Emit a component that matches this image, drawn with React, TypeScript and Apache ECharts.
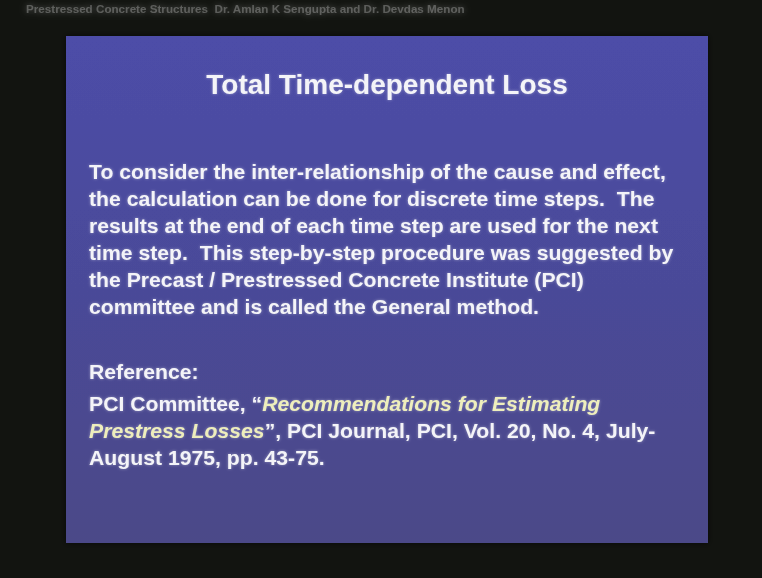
import React, { useEffect, useRef } from "react";
import * as echarts from "echarts";

const titleText = "Total Time-dependent Loss";
const bodyLines = [
  "To consider the inter-relationship of the cause and effect,",
  "the calculation can be done for discrete time steps.  The",
  "results at the end of each time step are used for the next",
  "time step.  This step-by-step procedure was suggested by",
  "the Precast / Prestressed Concrete Institute (PCI)",
  "committee and is called the General method.",
];
const refHeading = "Reference:";
const refLines: { plain: string; italic: string; after: string }[] = [
  { plain: "PCI Committee, \u201C", italic: "Recommendations for Estimating", after: "" },
  { plain: "", italic: "Prestress Losses", after: "\u201D, PCI Journal, PCI, Vol. 20, No. 4, July-" },
  { plain: "August 1975, pp. 43-75.", italic: "", after: "" },
];
const topStrip = "Prestressed Concrete Structures  Dr. Amlan K Sengupta and Dr. Devdas Menon";

export default function App() {
  const ref = useRef<HTMLDivElement>(null);
  useEffect(() => {
    if (!ref.current) return;
    const chart = echarts.init(ref.current, null, { renderer: "svg" });
    const font = "'Liberation Sans', Arial, sans-serif";
    const white = "#f4f4f8";
    const yellow = "#eeeebc";
    const glow = { textShadowColor: "rgba(255,255,255,0.4)", textShadowBlur: 3 };
    const bodyX = 89;
    const bodyY0 = 172;
    const lh = 27;
    const refY0 = 372;
    const fs = 21;
    const sx = 1.01;
    const elements: any[] = [
      { type: "rect", shape: { x: 0, y: 0, width: 762, height: 578 }, style: { fill: "#121410" } },
      {
        type: "text",
        x: 26,
        y: 9,
        scaleX: 1.06,
        style: {
          text: topStrip,
          fill: "rgba(200,200,200,0.35)",
          font: `bold 11px ${font}`,
          verticalAlign: "middle",
          textShadowColor: "rgba(230,230,230,0.9)",
          textShadowBlur: 6,
        },
      },
      {
        type: "rect",
        shape: { x: 66, y: 36, width: 642, height: 507 },
        style: {
          fill: new echarts.graphic.LinearGradient(0, 0, 0, 1, [
            { offset: 0, color: "#4d4da8" },
            { offset: 0.5, color: "#4a4a98" },
            { offset: 1, color: "#4c4a88" },
          ]),
          shadowColor: "rgba(0,0,0,0.6)",
          shadowBlur: 6,
        },
      },
      {
        type: "text",
        x: 387,
        y: 84,
        style: {
          text: titleText,
          fill: white,
          font: `bold 28px ${font}`,
          align: "center",
          verticalAlign: "middle",
          ...glow,
        },
      },
    ];
    bodyLines.forEach((line, i) => {
      elements.push({
        type: "text",
        x: bodyX,
        y: bodyY0 + i * lh,
        scaleX: sx,
        style: { text: line, fill: white, font: `bold ${fs}px ${font}`, verticalAlign: "middle", ...glow },
      });
    });
    elements.push({
      type: "text",
      x: bodyX,
      y: refY0,
      scaleX: sx,
      style: { text: refHeading, fill: white, font: `bold ${fs}px ${font}`, verticalAlign: "middle", ...glow },
    });
    refLines.forEach((l, i) => {
      const parts: string[] = [];
      if (l.plain) parts.push(`{p|${l.plain}}`);
      if (l.italic) parts.push(`{i|${l.italic}}`);
      if (l.after) parts.push(`{p|${l.after}}`);
      elements.push({
        type: "text",
        x: bodyX,
        y: refY0 + 32 + i * lh,
        scaleX: sx,
        style: {
          text: parts.join(""),
          verticalAlign: "middle",
          rich: {
            p: { fill: white, font: `bold ${fs}px ${font}`, ...glow },
            i: { fill: yellow, font: `italic bold ${fs}px ${font}`, ...glow },
          },
        },
      });
    });
    chart.setOption({ animation: false, graphic: { elements } });
    return () => chart.dispose();
  }, []);
  return <div ref={ref} style={{ position: "fixed", left: 0, top: 0, width: 762, height: 578 }} />;
}
